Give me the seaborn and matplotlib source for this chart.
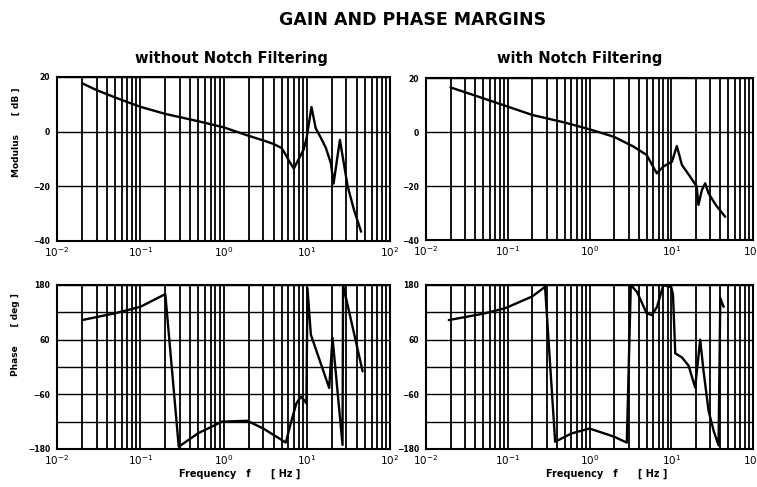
import numpy as np
import pandas as pd
import matplotlib
matplotlib.use("Agg")
import matplotlib.pyplot as plt
import matplotlib.ticker as mticker
import seaborn as sns

# ---- data ----
f_mod_without = [0.02, 0.03, 0.05, 0.1, 0.2, 0.5, 1.0, 2.0, 3.0, 4.0, 5.0, 5.6, 6.2, 7.0, 8.0, 9.2,
                 10.0, 11.4, 12.8, 14.8, 17.0, 19.5, 21.0, 25.0, 31.0, 37.0, 45.0]
mod_without = [17.7, 15.2, 12.5, 9.1, 6.5, 3.8, 1.6, -1.5, -3.2, -4.5, -6.0, -8.5, -11.0, -13.5, -10.0, -6.5,
               -2.0, 9.0, 1.3, -2.3, -6.0, -11.6, -19.0, -3.0, -20.0, -28.7, -36.6]

f_mod_with = [0.02, 0.05, 0.1, 0.2, 0.5, 1.0, 2.0, 3.45, 5.0, 6.65, 8.0, 10.2, 11.7, 13.5, 17.0,
              20.5, 21.5, 23.7, 26.0, 28.6, 35.0, 45.7]
mod_with = [16.5, 12.5, 9.4, 6.3, 3.5, 1.0, -1.8, -5.4, -8.5, -15.3, -12.8, -11.0, -5.2, -12.2, -16.5,
            -20.2, -27.0, -21.5, -19.0, -22.7, -27.0, -31.4]

f_ph_without = [0.02, 0.05, 0.1, 0.2, 0.29, 0.5, 0.96, 1.93, 3.0, 4.5, 5.6, 6.5, 7.5, 8.5, 9.5, 9.9,
                10.2, 11.2, 18.6, 20.4, 26.9, 27.3, 46.9]
ph_without = [103, 118, 132, 160, -175, -145, -120, -118, -135, -155, -166, -120, -80, -65, -75, -80,
              173, 71, -46, 64, -171, 180, -9.5]

f_ph_with = [0.019, 0.05, 0.093, 0.2, 0.286, 0.38, 0.6, 1.0, 2.0, 2.86, 3.2, 3.8, 5.0, 5.8, 6.7, 8.0,
             10.0, 10.5, 11.2, 13.5, 16.3, 19.6, 22.6, 24.8, 28.6, 33.0, 37.9, 39.8, 43.7]
ph_with = [103, 117, 129, 155, 176, -164, -146, -135, -153, -166, 180, 165, 118, 114, 132, 180,
           175, 159, 30, 21, 3, -45, 60, -8, -96, -140, -172, 151, 132]

mod_ticks = [20, 0, -20, -40]
ph_ticks = [180, 60, -60, -180]
ph_minor = [120, 0, -120]
dec_ticks = [0.01, 0.1, 1, 10, 100]

sns.set_style("white")
plt.rcParams["font.family"] = ["DejaVu Sans"]
for k in ["text.color", "axes.labelcolor", "xtick.color", "ytick.color"]:
    plt.rcParams[k] = "black"

fig = plt.figure(figsize=(7.57, 4.87), dpi=100)
W, H = 757, 487

def add_ax(x0, y0, x1, y1):
    return fig.add_axes([x0 / W, 1 - y1 / H, (x1 - x0) / W, (y1 - y0) / H])

ax_ml = add_ax(57, 77, 390, 241)
ax_mr = add_ax(426, 78, 753, 240)
ax_pl = add_ax(57, 285, 390, 449)
ax_pr = add_ax(426, 285, 753, 449)

panels = [
    (ax_ml, f_mod_without, mod_without, "mod"),
    (ax_mr, f_mod_with, mod_with, "mod"),
    (ax_pl, f_ph_without, ph_without, "ph"),
    (ax_pr, f_ph_with, ph_with, "ph"),
]

for ax, fx, vy, kind in panels:
    df = pd.DataFrame({"f": fx, "v": vy})
    sns.lineplot(data=df, x="f", y="v", ax=ax, color="black", lw=1.7,
                 estimator=None, sort=False, zorder=5)
    ax.set_xscale("log")
    ax.set_xlim(0.01, 100)
    ax.xaxis.set_major_locator(mticker.FixedLocator(dec_ticks))
    ax.xaxis.set_minor_locator(mticker.LogLocator(base=10, subs=np.arange(2, 10), numticks=20))
    ax.xaxis.set_major_formatter(mticker.LogFormatterMathtext())
    ax.xaxis.set_minor_formatter(mticker.NullFormatter())
    if kind == "mod":
        ax.set_ylim(-40, 20)
        ax.set_yticks(mod_ticks)
    else:
        ax.set_ylim(-180, 180)
        ax.set_yticks(ph_ticks)
        ax.set_yticks(ph_minor, minor=True)
    ax.grid(True, which="both", axis="x", color="black", lw=1.3)
    ax.grid(True, which="both", axis="y", color="black", lw=1.0)
    ax.set_xlabel("")
    ax.set_ylabel("")
    for s in ax.spines.values():
        s.set_color("black")
        s.set_linewidth(1.5)
    ax.tick_params(axis="x", which="major", labelsize=7.5, length=3, direction="in", pad=3)
    ax.tick_params(axis="x", which="minor", length=0)
    ax.tick_params(axis="y", which="major", labelsize=5.5, length=3, direction="in", pad=5)
    ax.tick_params(axis="y", which="minor", length=0)
    for lab in ax.get_yticklabels():
        lab.set_fontweight("bold")

fig.text(413 / W, 1 - 20 / H, "GAIN AND PHASE MARGINS", ha="center", va="center",
         fontsize=12.5, fontweight="bold")
fig.text(231 / W, 1 - 58 / H, "without Notch Filtering", ha="center", va="center",
         fontsize=10.5, fontweight="bold")
fig.text(580 / W, 1 - 58 / H, "with Notch Filtering", ha="center", va="center",
         fontsize=10.5, fontweight="bold")
fig.text(16 / W, 1 - 132 / H, "Modulus      [ dB ]", ha="center", va="center",
         rotation=90, fontsize=6.5, fontweight="bold")
fig.text(16 / W, 1 - 335 / H, "Phase      [ deg ]", ha="center", va="center",
         rotation=90, fontsize=6.5, fontweight="bold")
fig.text(240 / W, 1 - 474 / H, "Frequency   f      [ Hz ]", ha="center", va="center",
         fontsize=7, fontweight="bold")
fig.text(607 / W, 1 - 474 / H, "Frequency   f      [ Hz ]", ha="center", va="center",
         fontsize=7, fontweight="bold")

fig.savefig("out.png", dpi=100, facecolor="white")
